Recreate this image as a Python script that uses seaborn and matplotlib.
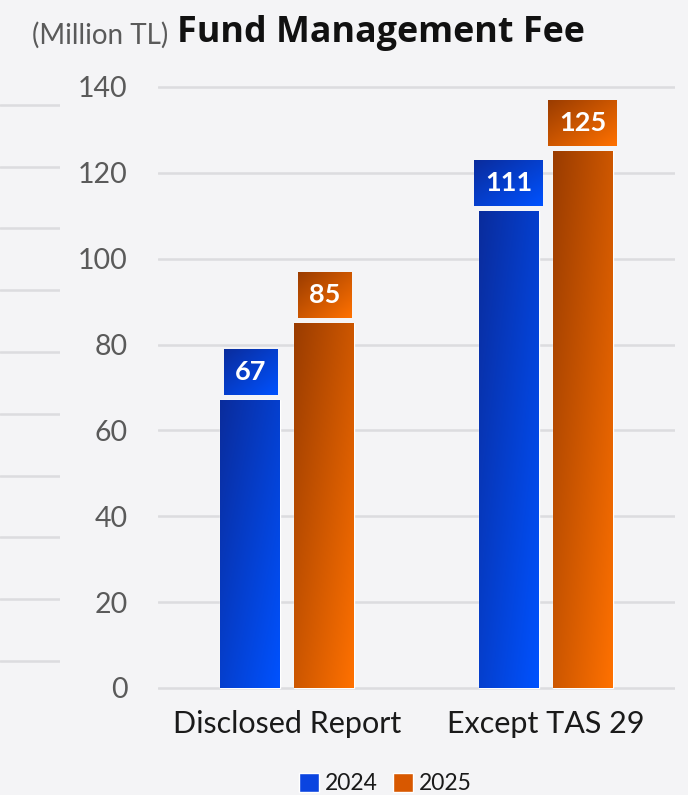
import numpy as np
import pandas as pd
import matplotlib
matplotlib.use('Agg')
import matplotlib.pyplot as plt
import matplotlib.colors as mcolors
from matplotlib.patches import Patch
import seaborn as sns

categories = ['Disclosed Report', 'Except TAS 29']
years = ['2024', '2025']
fee_2024 = [67, 111]
fee_2025 = [85, 125]
yticks = [0, 20, 40, 60, 80, 100, 120, 140]

# dark (top-left) -> bright (bottom-right) per year
grad_colors = {
    '2024': ('#0a2c9c', '#0052ff'),
    '2025': ('#9a3c00', '#ff7100'),
}
mid_colors = {'2024': '#0a44e0', '2025': '#d85800'}

df = pd.DataFrame({
    'category': categories * 2,
    'year': [years[0]] * len(categories) + [years[1]] * len(categories),
    'fee': fee_2024 + fee_2025,
})

bg = '#f4f4f6'
sns.set_theme(style='white')
plt.rcParams['font.family'] = ['Lato', 'DejaVu Sans']

fig = plt.figure(figsize=(6.88, 7.95), dpi=100, facecolor=bg)

# faint stray gridlines on the far left of the slide
ax_l = fig.add_axes([0, 0.1296, 60 / 688, 0.7774], facecolor=bg)
ax_l.set_ylim(-0.5, 9.5)
ax_l.set_yticks(range(10))
ax_l.set_xticks([])
ax_l.tick_params(left=False, labelleft=False)
ax_l.grid(axis='y', color='#dcdcdf', linewidth=1.8)
for s in ax_l.spines.values():
    s.set_visible(False)

ax = fig.add_axes([158 / 688, 0.1292, 517 / 688, 0.7668], facecolor=bg)
sns.barplot(data=df, x='category', y='fee', hue='year', hue_order=years,
            palette=mid_colors, width=0.573, gap=0.19, legend=False,
            saturation=1, ax=ax, zorder=3)

ax.set_xlim(-0.5, 1.5)
ax.set_ylim(-1, 141)
ax.set_yticks(yticks)
ax.set_xlabel('')
ax.set_ylabel('')
ax.grid(axis='y', color='#dcdcdf', linewidth=1.8, zorder=0)
ax.set_axisbelow(True)
for s in ax.spines.values():
    s.set_visible(False)
ax.tick_params(axis='y', length=0, pad=22, labelsize=20.5, labelcolor='#5a5a5a')
ax.tick_params(axis='x', length=0, pad=13, labelsize=22, labelcolor='#1a1a1a')


def gradient(c0, c1, n=80):
    u = np.linspace(0, 1, n)
    U, V = np.meshgrid(u, u)
    t = np.clip(0.5 * U + 0.5 * V, 0, 1)[..., None]
    a = np.array(mcolors.to_rgb(c0))
    b = np.array(mcolors.to_rgb(c1))
    return a + t * (b - a)


labels = []
for year, cont in zip(years, ax.containers):
    c0, c1 = grad_colors[year]
    for bar in cont:
        x0, y0 = bar.get_x(), bar.get_y()
        w, h = bar.get_width(), bar.get_height()
        im = ax.imshow(gradient(c0, c1), extent=(x0, x0 + w, y0, y0 + h),
                       aspect='auto', origin='upper', zorder=4)
        im.set_clip_path(bar)
        t = ax.annotate(f'{h:.0f}', xy=(x0 + w / 2, y0 + h), xytext=(0, 11.5),
                        textcoords='offset points', ha='center', va='bottom',
                        color='white', fontsize=19.5, fontweight='bold', zorder=7,
                        bbox=dict(boxstyle='square,pad=0.4', fc='none', ec='none'))
        labels.append((t, c0, c1))

fig.canvas.draw()
renderer = fig.canvas.get_renderer()
inv = ax.transData.inverted()
for t, c0, c1 in labels:
    ext = t.get_bbox_patch().get_window_extent(renderer)
    (bx0, by0), (bx1, by1) = inv.transform([[ext.x0, ext.y0], [ext.x1, ext.y1]])
    ax.imshow(gradient(c0, c1), extent=(bx0, bx1, by0, by1), aspect='auto',
              origin='upper', zorder=6, clip_on=False)

ax.set_xlim(-0.5, 1.5)
ax.set_ylim(-1, 141)

fig.text(0.0465, 0.955, '(Million TL)', fontsize=20, color='#5a5a5a',
         va='center', ha='left')
fig.text(0.257, 0.959, 'Fund Management Fee', fontsize=25.8, color='#111111',
         fontweight='bold', va='center', ha='left',
         family=['Open Sans', 'DejaVu Sans'])

handles = [Patch(facecolor=mid_colors[y], label=y) for y in years]
fig.legend(handles=handles, loc='center', bbox_to_anchor=(0.56, 0.014), ncol=2,
           frameon=False, fontsize=16.5, handlelength=0.85, handleheight=0.85,
           handletextpad=0.25, columnspacing=0.7, labelcolor='#1a1a1a')

fig.savefig('out.png', dpi=100, facecolor=bg)
